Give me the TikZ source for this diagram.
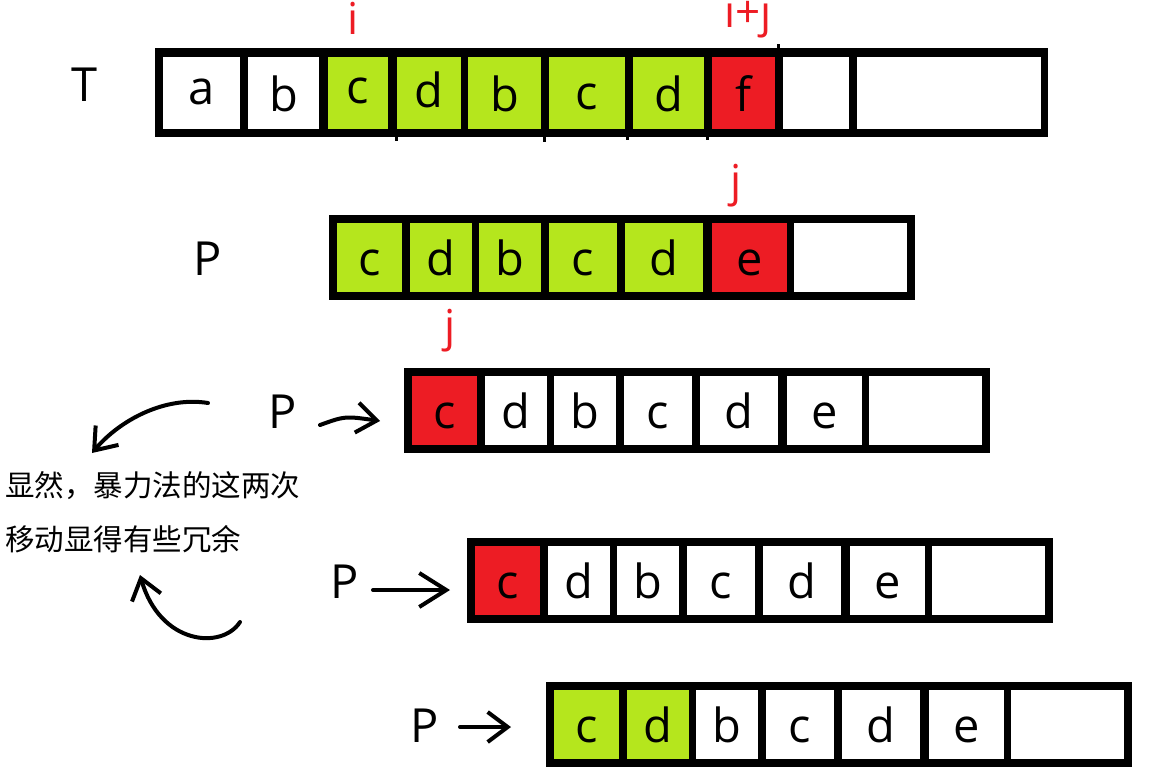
\documentclass[tikz,border=0pt]{standalone}
\usepackage{fontspec}
\setmainfont{Open Sans}
\newfontfamily\cjkfont{Noto Sans CJK SC}
\usetikzlibrary{arrows.meta}
\definecolor{clrgreen}{RGB}{181,230,29}
\definecolor{clrred}{RGB}{237,28,36}

\begin{document}
\begin{tikzpicture}[x=1pt,y=-1pt,
	letter/.style={anchor=base,inner sep=0pt,font=\fontsize{47}{47}\selectfont},
	redlabel/.style={anchor=base,inner sep=0pt,text=clrred,font=\fontsize{44}{44}\selectfont},
	note/.style={anchor=base west,inner sep=0pt,font=\cjkfont\fontsize{29.5}{30}\selectfont},
	hand/.style={line width=4pt,line cap=round,line join=round,-{Straight Barb[length=20pt,width=30pt]}}]

\useasboundingbox (0,0) rectangle (1156,781);

\def\rowH{85}
\def\rowB{8}
\def\rowW{586}

\newcommand{\patrow}[6]{%
	% frame
	\fill [black] (#2,#3) rectangle ++(\rowW,\rowH);
	% cells
	\foreach \l/\r/\ch [count=\k] in {8/73/c,81/143/d,150/212/b,220/288/c,296/374/d,383/458/e} {
		\def\clr{white}
		\ifnum\k<#4 \else\ifnum\k>#5 \else\def\clr{clrgreen}\fi\fi
		\ifnum\k=#6 \def\clr{clrred}\fi
		\fill [\clr] (#2+\l,#3+\rowB) rectangle (#2+\r,#3+\rowH-\rowB);
		\node [letter] (#1\k) at ({#2+(\l+\r)/2},#3+60) {\ch};
	}
	\fill [white] (#2+465,#3+\rowB) rectangle (#2+578,#3+\rowH-\rowB);
}

% text T
\fill [black] (155,48) rectangle (1048,137);
\foreach \l/\r/\ch/\clr/\bl [count=\k] in {163/240/a/white/105,248/319/b/white/112,
	328/388/c/clrgreen/104,397/461/d/clrgreen/108,468/541/b/clrgreen/112,
	549/625/c/clrgreen/110,633/704/d/clrgreen/112,712/775/f/clrred/112} {
	\fill [\clr] (\l,57) rectangle (\r,129);
	\node [letter] (T\k) at ({(\l+\r)/2},\bl) {\ch};
}
\fill [white] (783,57) rectangle (849,129);
\fill [white] (857,57) rectangle (1041,129);
\foreach \x/\ya/\yb in {395/137/141,543/137/142,626/137/140,706/137/140,777/44/48}
	\fill [black] (\x,\ya) rectangle ++(3,\yb-\ya);

% pattern P, four tries
\patrow{Pa}{329}{215}{1}{5}{6}
\patrow{Pb}{404}{368}{1}{0}{1}
\patrow{Pc}{467}{538}{1}{0}{1}
\patrow{Pd}{546}{682}{1}{2}{0}

% names
\node [letter] (Tlab) at (84,102) {T};
\node [letter] (P1lab) at (208,275) {P};
\node [letter] (P2lab) at (283,428) {P};
\node [letter] (P3lab) at (345,598) {P};
\node [letter] (P4lab) at (425,742) {P};

% indices
\node [redlabel] (ilab) at (353,35) {i};
\node [redlabel] (ijlab) at (748,28) {i+j};
\node [redlabel] (j1lab) at (736,196) {j};
\node [redlabel] (j2lab) at (450,341) {j};

% moves
\coordinate (P2s) at (320,425);
\coordinate (P2e) at (380,421);
\draw [hand] (P2s) .. controls (345,416) .. (P2e);
\coordinate (P3s) at (373,590);
\coordinate (P3e) at (450,590);
\draw [hand,-{Straight Barb[length=27pt,width=34pt]}] (P3s) -- (P3e);
\coordinate (P4s) at (460,727);
\coordinate (P4e) at (511,727);
\draw [hand] (P4s) -- (P4e);

% remark
\node [note] (note1) at (5,496) {显然，暴力法的这两次};
\node [note] (note2) at (5,550) {移动显得有些冗余};
\coordinate (up1) at (208,403);
\coordinate (up2) at (92,453);
\draw [hand] (up1) .. controls (165,396) and (120,420) .. (up2);
\coordinate (lo1) at (240,622);
\coordinate (lo2) at (140,575);
\draw [hand] (lo1) .. controls (222,650) and (160,645) .. (lo2);

\end{tikzpicture}
\end{document}
